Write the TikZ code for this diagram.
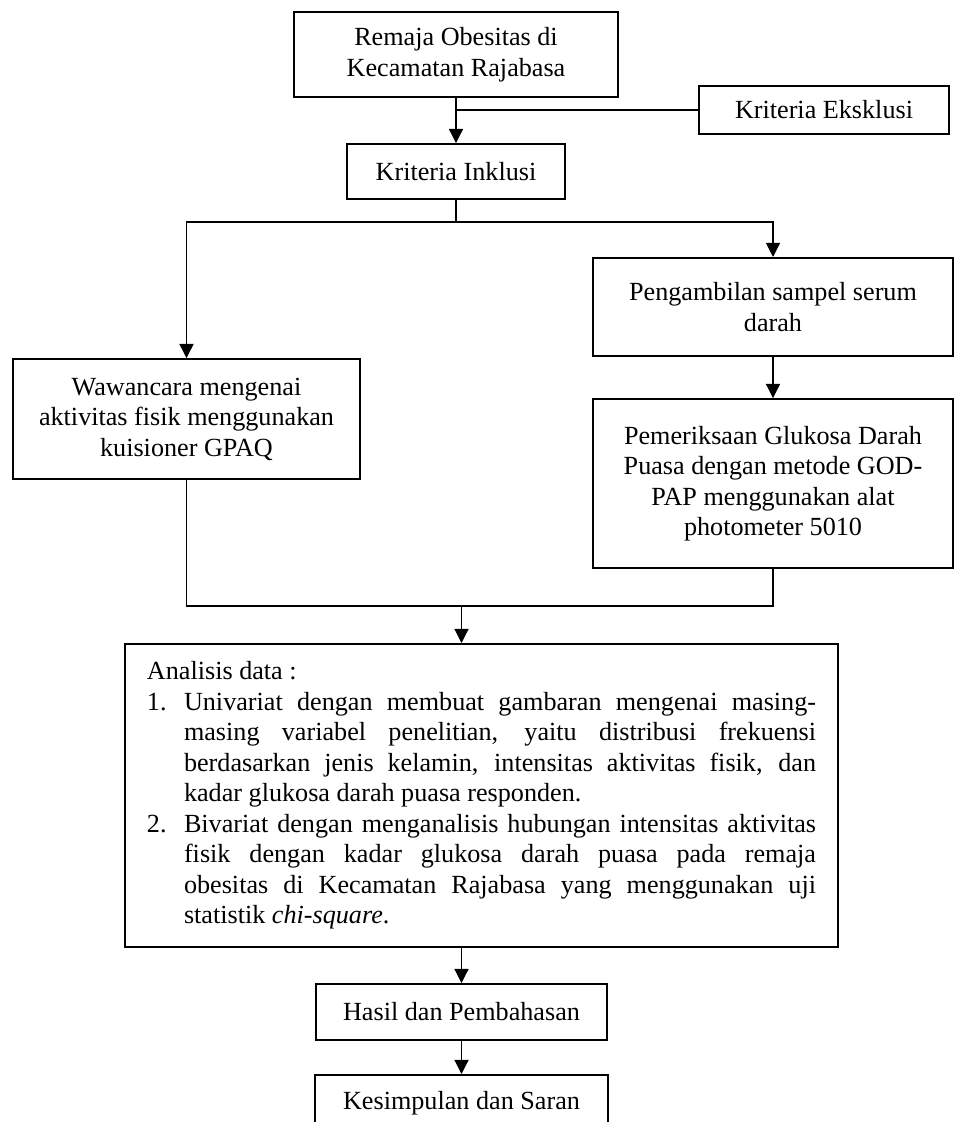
\documentclass[tikz,border=0pt]{standalone}
\usepackage{fontspec}
\setmainfont{Liberation Serif}
\usetikzlibrary{arrows.meta}
\begin{document}
\begin{tikzpicture}[x=0.4587pt, y=-0.4587pt,
  box/.style={draw, line width=0.9pt, align=center, inner sep=0pt, font=\fontsize{12}{14}\selectfont},
  ln/.style={line width=0.5pt},
  arr/.style={ln, -{Triangle[length=6.5pt,width=6.5pt]}}]
\useasboundingbox (0,0) rectangle (954,1122);
\clip (0,0) rectangle (954,1122);
\fill[white] (0,0) rectangle (954,1122);

\node[box, minimum width=148.6pt, minimum height=39pt] (b1) at (456,54.5) {Remaja Obesitas di\\Kecamatan Rajabasa};
\node[box, minimum width=114.7pt, minimum height=22pt] (eks) at (824,110) {Kriteria Eksklusi};
\node[box, minimum width=100pt, minimum height=25.2pt] (inkl) at (456,171.5) {Kriteria Inklusi};
\node[box, minimum width=159.2pt, minimum height=55pt] (waw) at (186.5,419) {Wawancara mengenai\\aktivitas fisik menggunakan\\kuisioner GPAQ};
\node[box, minimum width=164.7pt, minimum height=45pt] (peng) at (773,307) {Pengambilan sampel serum\\darah};
\node[box, minimum width=164.7pt, minimum height=77.5pt] (pem) at (773,483.5) {Pemeriksaan Glukosa Darah\\Puasa dengan metode GOD-\\PAP menggunakan alat\\photometer 5010};
\node[box, align=justify, text width=306.9pt, inner xsep=10.1pt, minimum height=139pt] (ana) at (481.5,795.5) {%
\parindent=0pt \hyphenpenalty=10000 \exhyphenpenalty=10000 \emergencystretch=2em
\noindent Analisis data :\par
\hangindent=17pt \hangafter=1 \noindent\makebox[17pt][l]{1.}Univariat dengan membuat gambaran mengenai masing-\linebreak masing variabel penelitian, yaitu distribusi frekuensi\linebreak berdasarkan jenis kelamin, intensitas aktivitas fisik, dan\linebreak kadar glukosa darah puasa responden.\par
\hangindent=17pt \hangafter=1 \noindent\makebox[17pt][l]{2.}Bivariat dengan menganalisis hubungan intensitas aktivitas\linebreak fisik dengan kadar glukosa darah puasa pada remaja\linebreak obesitas di Kecamatan Rajabasa yang menggunakan uji\linebreak statistik \textit{chi-square}.\par};
\node[box, minimum width=133.5pt, minimum height=25.7pt] (hasil) at (461.5,1012) {Hasil dan Pembahasan};
\node[box, minimum width=134.4pt, minimum height=25.7pt] (kes) at (461.5,1103) {Kesimpulan dan Saran};

\coordinate (split) at (456,222);
\coordinate (merge) at (461.5,606);

\draw[arr] (b1) -- (inkl);
\draw[ln] (eks.west) -- (eks.west -| b1.south);
\draw[ln] (inkl.south) -- (split);
\draw[arr] (split) -| (waw.north);
\draw[arr] (split) -| (peng.north);
\draw[arr] (peng) -- (pem);
\draw[ln] (waw.south) |- (merge) -| (pem.south);
\draw[arr] (merge) -- (merge |- ana.north);
\draw[arr] (ana.south -| hasil.north) -- (hasil.north);
\draw[arr] (hasil) -- (kes);
\end{tikzpicture}
\end{document}
